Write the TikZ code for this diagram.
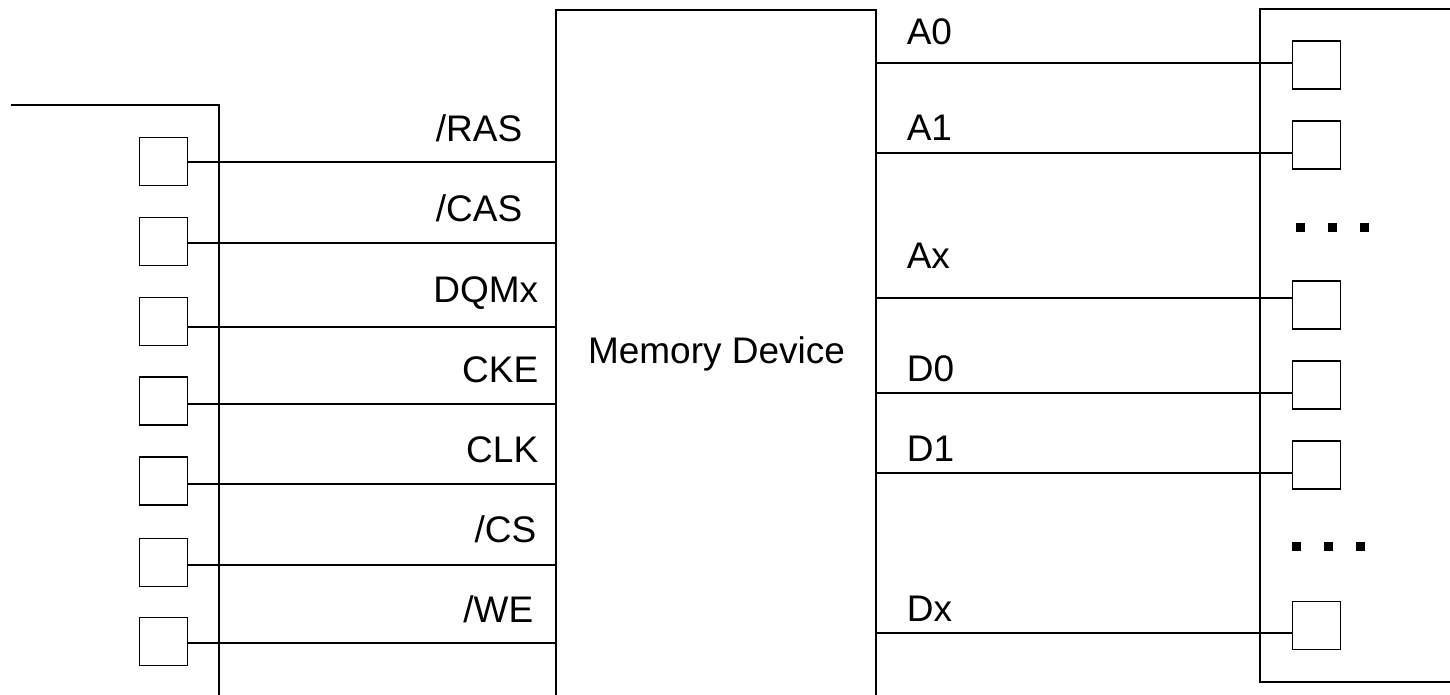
\documentclass[tikz,border=0pt]{standalone}
\usepackage{fontspec}
\setmainfont{Liberation Sans}
\begin{document}
\begin{tikzpicture}[x=1pt,y=-1pt,line width=1.6pt,
  pin/.style={draw,minimum size=48pt,inner sep=0pt},
  lbl/.style={font=\fontsize{37}{43}\selectfont,inner sep=0pt},
  dotbox/.style={fill=black,minimum size=9pt,inner sep=0pt}]
\clip (0,0) rectangle (1450,695);
% memory device
\node[draw,minimum width=320pt,minimum height=690pt,inner sep=0pt] (mem) at (716,355) {};
\node[lbl,anchor=base] (memtxt) at (716.5,363) {Memory Device};
% left connector outline
\coordinate (lt0) at (11,105);
\coordinate (lt1) at (219,105);
\coordinate (lb) at (219,700);
\draw (lt0) -- (lt1) -- (lb);
% right connector outline
\coordinate (rt0) at (1460,9);
\coordinate (rt1) at (1260,9);
\coordinate (rb1) at (1260,682);
\coordinate (rb0) at (1460,682);
\draw (rt0) -- (rt1) -- (rb1) -- (rb0);
% left pins: square centre, line y, label, label right x, baseline
\foreach \i/\y/\ly/\t/\tx/\ty in {1/161.5/162/{/RAS}/523/142, 2/241.5/243/{/CAS}/523/222,
  3/321.5/327/{DQMx}/539/302, 4/401/404/{CKE}/539/382, 5/481/484/{CLK}/539/462,
  6/562.5/565/{/CS}/537/542, 7/641.5/643/{/WE}/534/622}{
  \node[pin] (l\i) at (163.5,\y) {};
  \coordinate (lc\i) at (0,\ly);
  \draw (l\i.east |- lc\i) -- (mem.west |- lc\i);
  \node[lbl,anchor=base east] (ltx\i) at (\tx,\ty) {\t};
}
% right pins
\foreach \i/\y/\ly/\t/\ty in {1/65/63/{A0}/45, 2/145/153/{A1}/141, 3/305/298/{Ax}/268,
  4/385/393/{D0}/381, 5/465/473/{D1}/461, 6/625.5/633/{Dx}/621}{
  \node[pin] (r\i) at (1316.5,\y) {};
  \coordinate (rc\i) at (0,\ly);
  \draw (mem.east |- rc\i) -- (r\i.west |- rc\i);
  \node[lbl,anchor=base west] (rtx\i) at (906,\ty) {\t};
}
% dots
\foreach \i/\x in {1/1300,2/1332,3/1364}{
  \node[dotbox] (da\i) at (\x,227) {};
  \node[dotbox] (db\i) at (\x-4,546) {};
}
\end{tikzpicture}
\end{document}
